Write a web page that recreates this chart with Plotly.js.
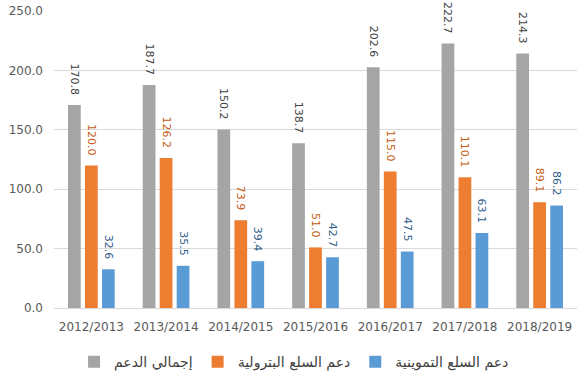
<!DOCTYPE html>
<html>
<head>
<meta charset="utf-8">
<script src="https://cdn.plot.ly/plotly-3.0.1.min.js"></script>
<style>html,body{margin:0;padding:0;background:#fff;}#chart{width:585px;height:380px;}</style>
</head>
<body>
<div id="chart"></div>
<script>
const years = ["2012/2013","2013/2014","2014/2015","2015/2016","2016/2017","2017/2018","2018/2019"];
const totalSubsidy = [170.8, 187.7, 150.2, 138.7, 202.6, 222.7, 214.3];
const petroleumSubsidy = [120.0, 126.2, 73.9, 51.0, 115.0, 110.1, 89.1];
const supplySubsidy = [32.6, 35.5, 39.4, 42.7, 47.5, 63.1, 86.2];
const seriesNames = ["إجمالي الدعم", "دعم السلع البترولية", "دعم السلع التموينية"];
const yTicks = [0, 50, 100, 150, 200, 250];

const FONT = "DejaVu Sans";
function mk(vals, name, color, tcolor) {
  return {
    type: "bar", x: years, y: vals, name: name,
    marker: {color: color},
    text: vals.map(v => v.toFixed(1) + "\u00a0\u00a0"),
    textposition: "outside", textangle: 90,
    textfont: {family: FONT, size: 11, color: tcolor},
    constraintext: "none", cliponaxis: false,
    hoverinfo: "none"
  };
}
const data = [
  mk(totalSubsidy, seriesNames[0], "#A5A5A5", "#404040"),
  mk(petroleumSubsidy, seriesNames[1], "#ED7D31", "#C55A11"),
  mk(supplySubsidy, seriesNames[2], "#5B9BD5", "#2E5C8A")
];
const layout = {
  width: 585, height: 380,
  margin: {l: 54, r: 8, t: 11, b: 72, autoexpand: false},
  paper_bgcolor: "#fff", plot_bgcolor: "#fff",
  barmode: "group", bargap: 0.318, bargroupgap: 0.25,
  font: {family: FONT, size: 12, color: "#595959"},
  xaxis: {
    showline: true, linecolor: "#D9D9D9", linewidth: 1,
    showgrid: false, ticks: "", ticklabelstandoff: 8, automargin: false,
    tickfont: {family: FONT, size: 12, color: "#595959"},
    fixedrange: true
  },
  yaxis: {
    range: [0, 250], tickvals: yTicks, tickformat: ".1f",
    showgrid: true, gridcolor: "#D9D9D9", gridwidth: 1,
    zeroline: false, showline: false, ticks: "", automargin: false,
    ticklabelstandoff: 10,
    tickfont: {family: FONT, size: 12, color: "#595959"},
    fixedrange: true
  },
  showlegend: true,
  legend: {
    orientation: "h", x: 0.459, xanchor: "center",
    yref: "container", y: 0.047, yanchor: "middle",
    font: {family: FONT, size: 14, color: "#404040"},
    traceorder: "normal"
  }
};
Plotly.newPlot("chart", data, layout, {displayModeBar: false, staticPlot: true});
</script>
</body>
</html>
